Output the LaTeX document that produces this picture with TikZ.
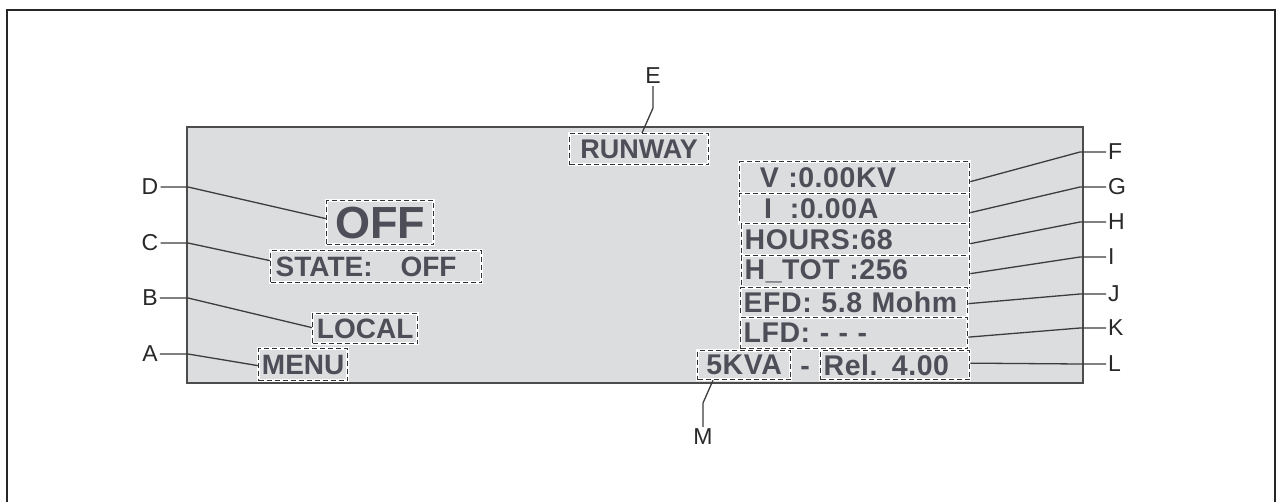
\documentclass[tikz,border=0pt]{standalone}
\usepackage{fontspec}
\setmainfont{Liberation Sans}
\newfontfamily\disp{Liberation Sans}
\newfontfamily\dispw{Liberation Sans}[LetterSpace=2]
\definecolor{panel}{RGB}{220,221,223}
\definecolor{txt}{RGB}{78,78,88}
\definecolor{dashc}{RGB}{50,50,50}
\definecolor{linec}{RGB}{60,60,60}
\definecolor{lab}{RGB}{40,40,40}
\tikzset{
  dbox/.style={draw=dashc, dash pattern=on 5pt off 3pt, line width=1.3pt,
    preaction={draw=white, solid, line width=3.2pt},
    inner sep=0pt, text=txt, anchor=north west},
  lbox/.style={dbox, align=left, inner xsep=3pt},
  cbox/.style={dbox, align=center},
  lfont/.style={font=\disp\bfseries\fontsize{28}{28}\selectfont},
  rfont/.style={font=\dispw\bfseries\fontsize{28.5}{28.5}\selectfont},
  lett/.style={font=\fontsize{23}{23}\selectfont, text=lab, inner sep=0pt},
  conn/.style={draw=linec, line width=1.3pt},
}
\begin{document}
\begin{tikzpicture}[x=1pt,y=-1pt]
\useasboundingbox (0,0) rectangle (1280,502);
% outer frame
\draw[line width=1.6pt, draw=black!85] (7,530) -- (7,10) -- (1275,10) -- (1275,530);
% display panel
\fill[panel] (187,127) rectangle (1083,383);
\draw[line width=2pt, draw=black!70] (187,127) rectangle (1083,383);

% boxes
\node[cbox, minimum width=107pt, minimum height=44pt, font=\disp\bfseries\fontsize{45}{45}\selectfont] (off) at (326,200) {OFF};
\node[lbox, lfont, text width=201pt, minimum height=32pt, inner xsep=5pt] (state) at (270,250) {STATE:\hspace{1.0em}OFF};
\node[cbox, lfont, minimum width=105pt, minimum height=30pt] (local) at (312,313) {LOCAL};
\node[cbox, lfont, minimum width=89pt, minimum height=32pt] (menu) at (258,348) {MENU};
\node[cbox, minimum width=139pt, minimum height=31pt, font=\disp\bfseries\fontsize{27}{27}\selectfont] (runway) at (569,133) {RUNWAY};

\node[lbox, rfont, text width=224pt, minimum height=32pt] (v) at (739,161) {\hspace{0.6em}V :0.00KV};
\node[lbox, rfont, text width=224pt, minimum height=30pt] (i) at (739,193) {\hspace{0.75em}I\hspace{0.3em} :0.00A};
\node[lbox, rfont, text width=222pt, minimum height=32pt] (hours) at (741,223) {HOURS:68};
\node[lbox, rfont, text width=222pt, minimum height=32pt] (htot) at (741,255) {H\_TOT :256};
\node[lbox, rfont, text width=221pt, minimum height=30pt] (efd) at (740,287) {EFD: 5.8 Mohm};
\node[lbox, rfont, text width=221pt, minimum height=31pt] (lfd) at (740,317) {LFD: - - -};
\node[cbox, rfont, minimum width=93pt, minimum height=29pt] (kva) at (697,350) {5KVA};
\node[lbox, rfont, text width=143pt, minimum height=29pt] (rel) at (820,350) {Rel. 4.00};
\node[rfont, text=txt, inner sep=0pt, anchor=base] (dash) at (805,376) {-};

% labels
\node[lett] (D) at (150,187) {D};
\node[lett] (C) at (150,243) {C};
\node[lett] (B) at (150,298) {B};
\node[lett] (A) at (150,354) {A};
\node[lett] (E) at (653,76) {E};
\node[lett] (M) at (703,437) {M};
\node[lett, anchor=west] (F) at (1108,152) {F};
\node[lett, anchor=west] (G) at (1108,187) {G};
\node[lett, anchor=west] (H) at (1108,222) {H};
\node[lett, anchor=west] (I) at (1108,257) {I};
\node[lett, anchor=west] (J) at (1108,294) {J};
\node[lett, anchor=west] (K) at (1108,328) {K};
\node[lett, anchor=west] (L) at (1108,364) {L};

% connectors
\draw[conn] ([xshift=2pt]D.east) -- (188,187) -- ([yshift=4pt]off.west);
\draw[conn] ([xshift=2pt]C.east) -- (188,243) -- ([yshift=6pt]state.west);
\draw[conn] ([xshift=2pt]B.east) -- (188,298) -- ([yshift=1pt]local.west);
\draw[conn] ([xshift=2pt]A.east) -- (188,354) -- ([yshift=-1pt]menu.west);
\draw[conn] ([yshift=-2pt]E.south) -- (653,108) -- ([xshift=73pt]runway.north west);
\draw[conn] ([yshift=2pt]M.north) -- (703,403) -- ([xshift=16pt]kva.south west);
\draw[conn] ([yshift=-4pt]v.east) -- (1080,152) -- ([xshift=-2pt]F.west);
\draw[conn] ([yshift=-4pt]i.east) -- (1080,187) -- ([xshift=-2pt]G.west);
\draw[conn] ([yshift=-4pt]hours.east) -- (1080,222) -- ([xshift=-2pt]H.west);
\draw[conn] ([yshift=-2pt]htot.east) -- (1080,257) -- ([xshift=-2pt]I.west);
\draw[conn] ([yshift=-1pt]efd.east) -- (1080,294) -- ([xshift=-2pt]J.west);
\draw[conn] ([yshift=-4pt]lfd.east) -- (1080,328) -- ([xshift=-2pt]K.west);
\draw[conn] ([yshift=2pt]rel.east) -- (1080,364) -- ([xshift=-2pt]L.west);
\end{tikzpicture}
\end{document}
